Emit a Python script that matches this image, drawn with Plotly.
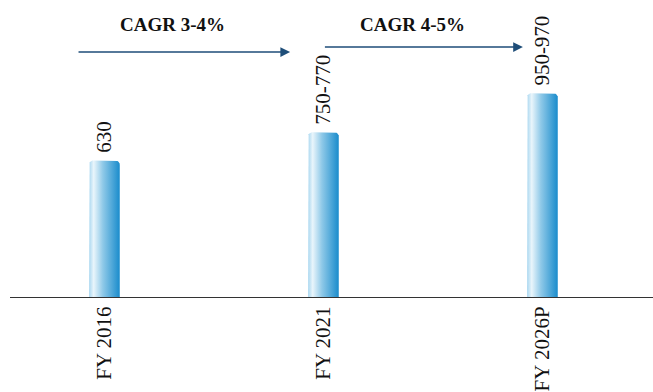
import plotly.graph_objects as go
import math

categories = ["FY 2016", "FY 2021", "FY 2026P"]
values = [630, 760, 940]
value_labels = ["630", "750-770", "950-970"]
cagr_labels = ["CAGR 3-4%", "CAGR 4-5%"]

BAR_W = 0.14
RX = 0.02   # corner radius in x units
RY = 19     # corner radius in y units
SERIF = "Liberation Serif, DejaVu Serif, serif"

fig = go.Figure()

for i, v in enumerate(values):
    x0, x1 = i - BAR_W / 2, i + BAR_W / 2
    xs = [x0, x0]
    ys = [0, v - RY]
    for k in range(0, 7):
        a = math.pi - k * (math.pi / 2) / 6
        xs.append(x0 + RX + RX * math.cos(a))
        ys.append(v - RY + RY * math.sin(a))
    for k in range(0, 7):
        a = math.pi / 2 - k * (math.pi / 2) / 6
        xs.append(x1 - RX + RX * math.cos(a))
        ys.append(v - RY + RY * math.sin(a))
    xs += [x1, x0]
    ys += [0, 0]
    fig.add_trace(go.Scatter(
        x=xs, y=ys, mode="lines", fill="toself",
        line=dict(width=0, color="rgba(0,0,0,0)"),
        fillgradient=dict(
            type="horizontal",
            colorscale=[[0, "#a9d7f0"], [0.15, "#e9f5fb"], [0.45, "#8fc9e8"], [1, "#1a8ccc"]],
        ),
        hoverinfo="skip", showlegend=False,
    ))

annotations = []
for i, (v, t) in enumerate(zip(values, value_labels)):
    annotations.append(dict(
        x=i, y=v, xref="x", yref="y", text=t, showarrow=False,
        textangle=-90, yanchor="bottom", xanchor="center", yshift=6,
        font=dict(family=SERIF, size=21, color="#111"),
    ))

arrows = [(-0.125, 0.848, 1130, 0.31), (1.0, 1.911, 1153, 1.405)]
for (xs_, xe, ya, xt), lab in zip(arrows, cagr_labels):
    annotations.append(dict(
        x=xe, y=ya, ax=xs_, ay=ya, xref="x", yref="y", axref="x", ayref="y",
        showarrow=True, arrowhead=2, arrowsize=1.3, arrowwidth=1.5,
        arrowcolor="#1f4e79", text="",
    ))
    annotations.append(dict(
        x=xt, y=1255, xref="x", yref="y", text="<b>" + lab + "</b>", showarrow=False,
        xanchor="center", yanchor="middle",
        font=dict(family=SERIF, size=19, color="#111"),
    ))

fig.update_layout(
    width=653, height=392,
    margin=dict(l=10, r=0, t=0, b=95),
    paper_bgcolor="white", plot_bgcolor="white",
    font=dict(family=SERIF),
    annotations=annotations,
    xaxis=dict(
        range=[-0.431, 2.505], tickvals=list(range(len(categories))), ticktext=categories,
        tickangle=-90, showgrid=False, zeroline=False, showline=True,
        linecolor="#333", linewidth=1, ticks="",
        tickfont=dict(family=SERIF, size=21, color="#111"),
    ),
    yaxis=dict(range=[0, 1370], visible=False, showgrid=False, zeroline=False),
)

fig.write_html("out.html")
